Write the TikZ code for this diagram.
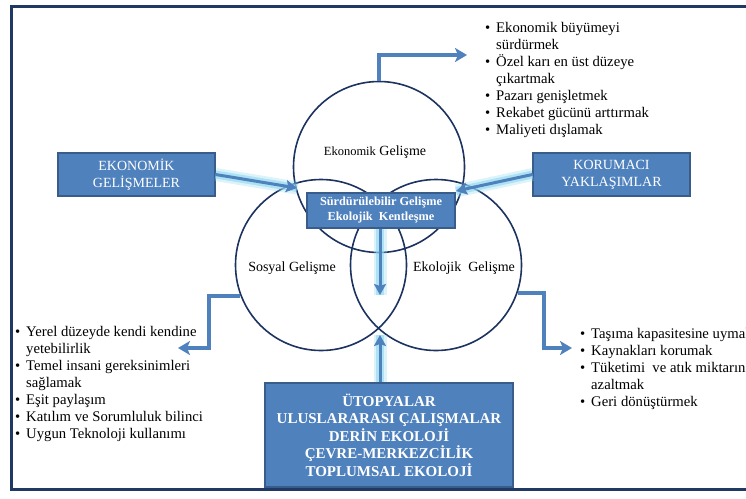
\documentclass[tikz,border=0pt]{standalone}
\usepackage{fontspec}
\setmainfont{Liberation Serif}
\usetikzlibrary{arrows.meta}
\definecolor{frameblue}{RGB}{31,56,100}
\definecolor{ringblue}{RGB}{28,50,96}
\definecolor{boxblue}{RGB}{79,129,189}
\definecolor{boxedge}{RGB}{56,93,138}
\definecolor{glowcyan}{RGB}{140,215,240}
\newcommand\itm[1]{\makebox[11pt][l]{\textbullet}#1}
\newcommand\cnt[1]{\hspace*{11pt}#1}

\begin{document}
\begin{tikzpicture}[x=1pt,y=1pt,
  every node/.style={font=\fontsize{14}{17}\selectfont},
  ring/.style={circle,draw=ringblue,line width=1.6pt,minimum size=171pt,inner sep=0pt},
  bluebox/.style={draw=boxedge,fill=boxblue,line width=1.2pt,text=white,align=center,inner sep=0pt},
  elbow/.style={draw=boxblue,line width=4pt,-{Stealth[length=12pt,width=14pt,inset=3pt]}},
  glow/.style={draw=boxblue,line width=3pt,-{Stealth[length=11pt,width=12pt,inset=2pt]},
    preaction={draw=glowcyan,line width=13pt,opacity=0.3,arrows=-},
    preaction={draw=glowcyan,line width=8pt,opacity=0.6,arrows=-}},
  bullets/.style={align=left,anchor=north west,inner sep=0pt,font=\fontsize{14.7}{17}\selectfont}]
\useasboundingbox (0,0) rectangle (746,-498);
\draw[frameblue,line width=3pt] (11,-6) rectangle (800,-489);

\node[ring] (ekon) at (379,-167) {};
\node[ring] (sosyal) at (321,-265) {};
\node[ring] (ekol) at (436,-265) {};
\node (ekonlbl) at (375,-152) {{\fontsize{12.5}{15}\selectfont Ekonomik} Gelişme};
\node (sosyallbl) at (292,-268) {Sosyal Gelişme};
\node (ekollbl) at (464,-268) {Ekolojik\ \ Gelişme};

\node[bluebox,minimum width=157pt,minimum height=43pt] (ekgel) at (136.5,-174.5) {EKONOMİK\\GELİŞMELER};
\node[bluebox,minimum width=157pt,minimum height=43pt] (korum) at (611.5,-174.5) {KORUMACI\\YAKLAŞIMLAR};
\node[bluebox,minimum width=148pt,minimum height=35pt,font=\bfseries\fontsize{12.3}{15}\selectfont] (surd) at (381,-210.5) {Sürdürülebilir Gelişme\\Ekolojik\ \ Kentleşme};
\node[bluebox,minimum width=248pt,minimum height=104pt,font=\bfseries\fontsize{15}{17.5}\selectfont] (utop) at (389,-435) {ÜTOPYALAR\\ULUSLARARASI ÇALIŞMALAR\\DERİN EKOLOJİ\\ÇEVRE-MERKEZCİLİK\\TOPLUMSAL EKOLOJİ};

\coordinate (ekgeltip) at (297,-188);
\coordinate (korumtip) at (456,-191);
\coordinate (surdtip) at (380,-295);
\coordinate (utoptip) at (380,-335);
\draw[glow] (ekgel.east) -- (ekgeltip);
\draw[glow] (korum.west) -- (korumtip);
\draw[glow] (surd.south -| surdtip) -- (surdtip);
\draw[glow] (utop.north -| utoptip) -- (utoptip);

\coordinate (ekontip) at (467,-55);
\coordinate (sosyaltip) at (178,-348);
\coordinate (ekoltip) at (572,-348);
\draw[elbow] (ekon.north) |- (ekontip);
\draw[elbow] (sosyal.201) -- ++(-31,0) |- (sosyaltip);
\draw[elbow] (ekol.-19) -- ++(26,0) |- (ekoltip);

\node[bullets] (ekonlist) at (485,-22) {\itm{Ekonomik büyümeyi}\\\cnt{sürdürmek}\\\itm{Özel karı en üst düzeye}\\\cnt{çıkartmak}\\\itm{Pazarı genişletmek}\\\itm{Rekabet gücünü arttırmak}\\\itm{Maliyeti dışlamak}};
\node[bullets] (sosyallist) at (15,-326) {\itm{Yerel düzeyde kendi kendine}\\\cnt{yetebilirlik}\\\itm{Temel insani gereksinimleri}\\\cnt{sağlamak}\\\itm{Eşit paylaşım}\\\itm{Katılım ve Sorumluluk bilinci}\\\itm{Uygun Teknoloji kullanımı}};
\node[bullets] (ekollist) at (580,-328) {\itm{Taşıma kapasitesine uymak}\\\itm{Kaynakları korumak}\\\itm{Tüketimi\ \ ve atık miktarını}\\\cnt{azaltmak}\\\itm{Geri dönüştürmek}};
\end{tikzpicture}
\end{document}
